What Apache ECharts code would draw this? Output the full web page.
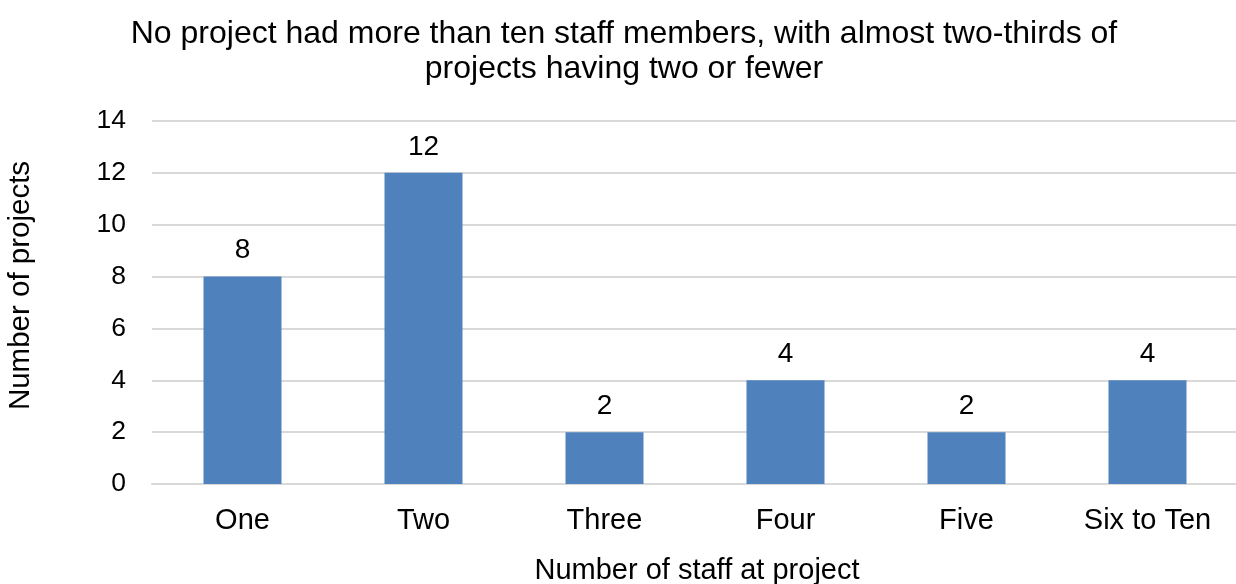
<!DOCTYPE html>
<html><head><meta charset="utf-8">
<script src="https://cdn.jsdelivr.net/npm/echarts@6/dist/echarts.min.js"></script>
<style>html,body{margin:0;padding:0;background:#fff}#c{width:1236px;height:584px}</style>
</head><body><div id="c"></div>
<script>
const categories = ['One','Two','Three','Four','Five','Six to Ten'];
const projectCounts = [8,12,2,4,2,4];
const yTicks = [0,2,4,6,8,10,12,14];

const chart = echarts.init(document.getElementById('c'), null, {renderer:'canvas'});
const font = '"Liberation Sans", Arial, sans-serif';
chart.setOption({
  animation:false,
  title:{
    text:'No project had more than ten staff members, with almost two-thirds of\nprojects having two or fewer',
    left:619, top:12, textAlign:'center',
    textStyle:{fontFamily:font,fontSize:32,fontWeight:'normal',color:'#000',lineHeight:35}
  },
  grid:{left:152,right:-2,top:121,bottom:100,containLabel:false,outerBoundsMode:'none'},
  xAxis:{
    type:'category', data:categories,
    name:'Number of staff at project', nameLocation:'middle', nameGap:72,
    nameTextStyle:{fontFamily:font,fontSize:29,color:'#000',padding:[0,0,0,4]},
    axisLine:{show:true,lineStyle:{color:'#d9d9d9',width:2}},
    axisTick:{show:false},
    axisLabel:{fontFamily:font,fontSize:29,color:'#000',margin:22}
  },
  yAxis:{
    type:'value', min:yTicks[0], max:yTicks[yTicks.length-1], interval:2,
    name:'Number of projects', nameLocation:'middle', nameGap:116, nameRotate:90,
    nameTextStyle:{fontFamily:font,fontSize:29.5,color:'#000',padding:[0,0,0,34]},
    axisLine:{show:false}, axisTick:{show:false},
    axisLabel:{fontFamily:font,fontSize:26.5,color:'#000',margin:26},
    splitLine:{lineStyle:{color:'#d9d9d9',width:2}}
  },
  series:[{
    type:'bar', data:projectCounts, barWidth:78,
    itemStyle:{color:'#4f81bd'},
    label:{show:true,position:'top',distance:12,fontFamily:font,fontSize:28,color:'#000'}
  }]
});
</script></body></html>
